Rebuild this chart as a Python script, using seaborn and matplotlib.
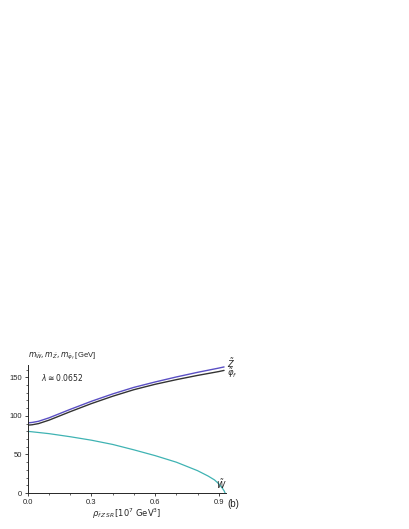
import matplotlib
matplotlib.use("Agg")
import matplotlib.pyplot as plt
import seaborn as sns
import numpy as np

sns.set_theme(style="ticks")
plt.rcParams['font.family'] = ['Liberation Sans', 'DejaVu Sans']

rho = [0.0, 0.02, 0.05, 0.1, 0.15, 0.2, 0.3, 0.4, 0.5, 0.6, 0.7, 0.8, 0.9, 0.925]
mZ = [91, 91.5, 93, 97.5, 103, 108.5, 119, 128.5, 137, 144, 150.5, 156.5, 162, 163.5]
mPhi = [88, 88.5, 90, 94.5, 100, 105.5, 116, 125.5, 134, 141, 147, 152.5, 157.5, 159]
rhoW = [0.0, 0.1, 0.2, 0.3, 0.4, 0.5, 0.6, 0.7, 0.8, 0.85, 0.88, 0.9, 0.915, 0.925, 0.93]
mW = [80, 77, 73, 68.5, 63, 56, 48.5, 40, 29, 22, 17, 12, 7, 3, 0]

fig = plt.figure(figsize=(4.09, 5.29), dpi=100)
ax = fig.add_axes([0.068, 0.068, 0.485, 0.242])
sns.lineplot(x=rho, y=mZ, ax=ax, color="#5a4fc4", lw=1.0)
sns.lineplot(x=rho, y=mPhi, ax=ax, color="#333333", lw=1.0)
sns.lineplot(x=rhoW, y=mW, ax=ax, color="#3fb3b3", lw=0.9)
ax.set_xlim(0, 0.935)
ax.set_ylim(0, 166)
ax.set_xticks([0.0, 0.3, 0.6, 0.9])
ax.set_xticklabels(["0.0", "0.3", "0.6", "0.9"])
ax.set_yticks([0, 50, 100, 150])
ax.set_xticks(np.arange(0, 0.93, 0.1), minor=True)
ax.set_yticks(np.arange(0, 166, 10), minor=True)
ax.tick_params(labelsize=5.5, length=2.5, width=0.6, pad=1.5)
ax.tick_params(which="minor", length=1.5, width=0.5)
for s in ["top", "right"]:
    ax.spines[s].set_visible(False)
for s in ["left", "bottom"]:
    ax.spines[s].set_linewidth(0.7)
ax.set_xlabel(r"$\rho_{\tilde{f}\,Z\,SR}\,[10^7\ \mathrm{GeV}^3]$", fontsize=6, labelpad=1)
ax.text(0.0, 1.02, r"$m_{\tilde{W}}, m_{\tilde{Z}}, m_{\tilde{\varphi}_f}$ [GeV]", transform=ax.transAxes, fontsize=5.5, ha="left", va="bottom")
ax.text(0.06, 150, r"$\lambda \cong 0.0652$", fontsize=5.5, va="center")
ax.text(0.94, 169, r"$\tilde{Z}$", fontsize=6, ha="left", va="center", clip_on=False)
ax.text(0.94, 156, r"$\tilde{\varphi}_f$", fontsize=6, ha="left", va="center", clip_on=False)
ax.text(0.91, 11, r"$\tilde{W}$", fontsize=6, ha="center", va="center", clip_on=False)
fig.text(0.555, 0.042, "(b)", fontsize=7)
fig.savefig("out.png", dpi=100)
